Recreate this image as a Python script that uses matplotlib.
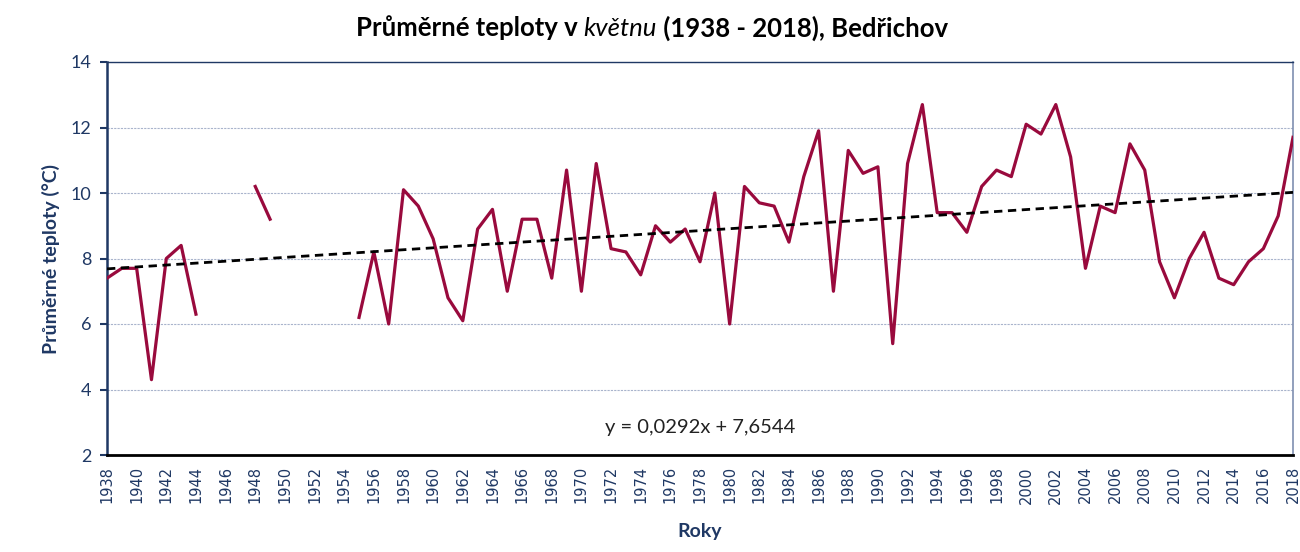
import numpy as np
import matplotlib
matplotlib.use("Agg")
import matplotlib.pyplot as plt

plt.rcParams['font.family'] = ['Lato', 'DejaVu Sans']

years = np.arange(1938, 2019)
nan = np.nan
temps = [7.4, 7.7, 7.7, 4.3, 8.0, 8.4, 6.3, nan, nan, nan,
         10.2, 9.2, nan, nan, nan, nan, nan,
         6.2, 8.2, 6.0, 10.1, 9.6, 8.6, 6.8, 6.1, 8.9, 9.5,
         7.0, 9.2, 9.2, 7.4, 10.7, 7.0, 10.9, 8.3, 8.2, 7.5,
         9.0, 8.5, 8.9, 7.9, 10.0, 6.0, 10.2, 9.7, 9.6, 8.5,
         10.5, 11.9, 7.0, 11.3, 10.6, 10.8, 5.4, 10.9, 12.7, 9.4,
         9.4, 8.8, 10.2, 10.7, 10.5, 12.1, 11.8, 12.7, 11.1, 7.7,
         9.6, 9.4, 11.5, 10.7, 7.9, 6.8, 8.0, 8.8, 7.4, 7.2,
         7.9, 8.3, 9.3, 11.7]
temps = np.array(temps, dtype=float)

# trend from the chart: y = 0,0292x + 7,6544, x = 1..81
slope = 0.0292
icpt = 7.6544

navy = '#1F3864'
red = '#990A3D'

fig = plt.figure(figsize=(13, 5.52), dpi=100)
ax = fig.add_axes([107/1300, 1 - 455/552, (1293-107)/1300, (455-62)/552])

ax.plot(years, temps, color=red, lw=2.3, zorder=3)
idx = np.arange(1, len(years) + 1)
ax.plot(years, slope * idx + icpt, color='black', lw=2.0, ls=(0, (3, 2)), zorder=4)

ax.set_xlim(1938, 2018)
ax.set_ylim(2, 14)
ax.set_yticks(np.arange(2, 15, 2))
ax.set_xticks(np.arange(1938, 2019, 2))
ax.set_xticklabels([str(y) for y in range(1938, 2019, 2)], rotation=90,
                   fontsize=10.5, color=navy, family='DejaVu Sans')
ax.tick_params(axis='x', length=0, pad=8)
ax.tick_params(axis='y', length=5, width=1.5, color=navy, labelcolor=navy,
               labelsize=13, pad=6)
ax.grid(axis='y', color='#A9B4CC', lw=0.8, ls=(0, (2, 1)))

ax.spines['left'].set_color(navy)
ax.spines['left'].set_linewidth(1.8)
ax.spines['top'].set_color(navy)
ax.spines['top'].set_linewidth(1.0)
ax.spines['bottom'].set_color('black')
ax.spines['bottom'].set_linewidth(2.0)
ax.spines['right'].set_color('#7F8FB0')
ax.spines['right'].set_linewidth(1.2)

ax.set_ylabel('Průměrné teploty (°C)', color=navy, fontsize=14, fontweight='bold', labelpad=8)
ax.set_xlabel('Roky', color=navy, fontsize=14, fontweight='bold', labelpad=14)

ax.text(0.5, 0.07, 'y = 0,0292x + 7,6544', transform=ax.transAxes, ha='center',
        va='center', fontsize=14.5, color='#222222')

# title in three parts (middle word italic)
parts = [('Průměrné teploty v ', 'normal'), ('květnu', 'italic'),
         (' (1938 - 2018), Bedřichov', 'normal')]
fig.canvas.draw()
r = fig.canvas.get_renderer()
texts = []
for s, st in parts:
    t = fig.text(0, 1 - 28/552, s, fontsize=18.5, fontweight='bold' if st == 'normal' else 'normal',
                 style=st, va='center', ha='left')
    texts.append(t)
widths = [t.get_window_extent(r).width for t in texts]
x = 652 - sum(widths) / 2
for t, w in zip(texts, widths):
    t.set_x(x / 1300)
    x += w

fig.savefig('out.png', dpi=100)
